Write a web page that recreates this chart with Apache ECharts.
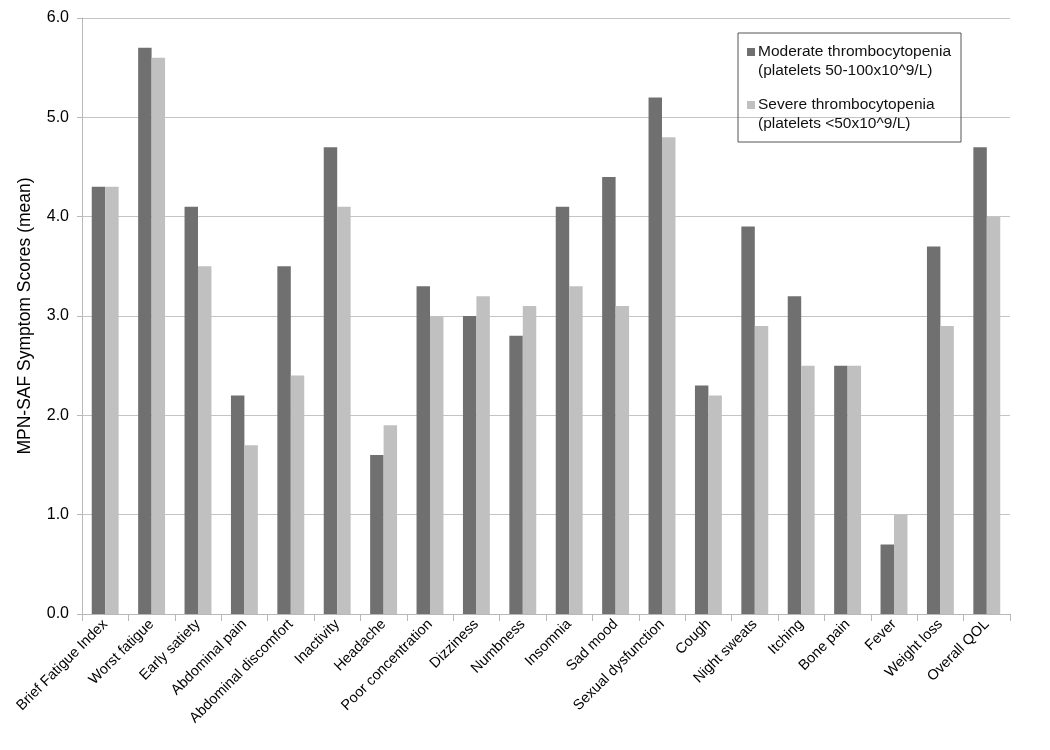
<!DOCTYPE html>
<html><head><meta charset="utf-8">
<script src="https://cdn.jsdelivr.net/npm/echarts@6/dist/echarts.min.js"></script>
<style>html,body{margin:0;padding:0;background:#fff}#c{width:1050px;height:750px}</style>
</head><body><div id="c"></div>
<script>
const categories = ["Brief Fatigue Index","Worst fatigue","Early satiety","Abdominal pain","Abdominal discomfort","Inactivity","Headache","Poor concentration","Dizziness","Numbness","Insomnia","Sad mood","Sexual dysfunction","Cough","Night sweats","Itching","Bone pain","Fever","Weight loss","Overall QOL"];
const moderate = [4.3,5.7,4.1,2.2,3.5,4.7,1.6,3.3,3.0,2.8,4.1,4.4,5.2,2.3,3.9,3.2,2.5,0.7,3.7,4.7];
const severe =   [4.3,5.6,3.5,1.7,2.4,4.1,1.9,3.0,3.2,3.1,3.3,3.1,4.8,2.2,2.9,2.5,2.5,1.0,2.9,4.0];
const seriesNames = ["Moderate thrombocytopenia\n(platelets 50-100x10^9/L)","Severe thrombocytopenia\n(platelets <50x10^9/L)"];
const yTicks = {min:0,max:6,interval:1};

const chart = echarts.init(document.getElementById('c'));
const font = 'Liberation Sans, Arial, sans-serif';
chart.setOption({
  animation:false,
  textStyle:{fontFamily:font},
  grid:{left:82,right:40,top:18,bottom:136},
  legend:{
    left:738, top:33, orient:'vertical',
    padding:[9,10,9,9], itemGap:15,
    borderColor:'#555', borderWidth:1,
    icon:'path://M0,0h8v8h-8zM0,26', itemWidth:8, itemHeight:26,
    textStyle:{fontSize:15.5, color:'#111', fontFamily:font, lineHeight:19, padding:[0,0,0,-2]},
    data:seriesNames
  },
  xAxis:{
    type:'category', data:categories,
    axisLine:{lineStyle:{color:'#b8b8b8'}},
    axisTick:{show:true, length:7, lineStyle:{color:'#b8b8b8'}},
    axisLabel:{rotate:45, fontSize:14.5, color:'#000', interval:0, margin:8, fontFamily:font}
  },
  yAxis:{
    type:'value', min:yTicks.min, max:yTicks.max, interval:yTicks.interval,
    name:'MPN-SAF Symptom Scores (mean)', nameLocation:'middle', nameGap:48,
    nameTextStyle:{fontSize:17.5, color:'#000', fontFamily:font},
    axisLine:{show:true, lineStyle:{color:'#b8b8b8'}},
    axisTick:{show:true, length:5, lineStyle:{color:'#b8b8b8'}},
    axisLabel:{fontSize:16, color:'#000', formatter:v=>v.toFixed(1), margin:13, fontFamily:font},
    splitLine:{lineStyle:{color:'#c4c4c4'}}
  },
  series:[
    {name:seriesNames[0], type:'bar', data:moderate, barGap:'0%', barCategoryGap:'42%', itemStyle:{color:'#707070'}},
    {name:seriesNames[1], type:'bar', data:severe, itemStyle:{color:'#c0c0c0'}}
  ]
});
</script></body></html>
